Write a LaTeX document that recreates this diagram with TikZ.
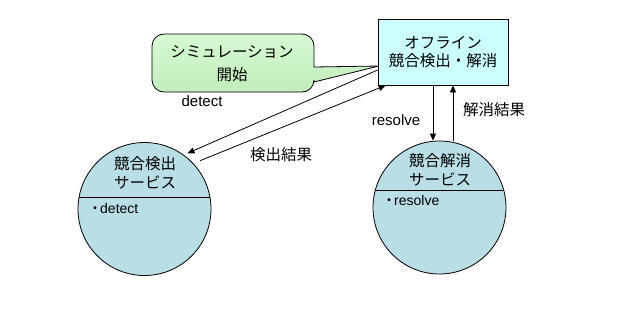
\documentclass[tikz,border=0pt]{standalone}
\usepackage{fontspec}
\setmainfont{Liberation Sans}
\newfontfamily\cjk{Noto Sans CJK JP}
\usetikzlibrary{arrows.meta,calc}
\definecolor{offcyan}{HTML}{CCFFFF}
\definecolor{svcblue}{HTML}{B9DEE5}
\definecolor{calltop}{HTML}{D6F9D2}
\definecolor{callbot}{HTML}{C2ECBC}
\begin{document}
\begin{tikzpicture}[x=1pt,y=-1pt,
  lbl/.style={font=\fontsize{15}{18}\selectfont, inner sep=0pt},
  small/.style={font=\fontsize{14}{17}\selectfont, inner sep=0pt, anchor=west},
  jp/.style={font=\cjk\fontsize{15.5}{19}\selectfont, align=center, inner sep=0pt},
  arr/.style={-{Triangle[length=7pt,width=6pt]}, line width=0.8pt},
  svc/.style={circle, draw, fill=svcblue, minimum size=133pt, inner sep=0pt, line width=0.8pt},
  offbox/.style={draw, fill=offcyan, minimum width=130pt, minimum height=66pt, inner sep=0pt, line width=0.8pt, align=center, font=\cjk\fontsize{15.5}{18}\selectfont},
  callout/.style={draw, line width=0.8pt, top color=calltop, bottom color=callbot}
]
\useasboundingbox[fill=white] (0,0) rectangle (632,308);

% callout
\path[callout] (152,60) [rounded corners=12pt] |- (314,34) [sharp corners] -- (314,67) -- (379,66) -- (314,82) [rounded corners=12pt] |- (152,92) -- cycle;
\node[jp, font=\cjk\fontsize{15.5}{23}\selectfont] (simtext) at (232,63.5) {シミュレーション\\開始};

% offline box
\node[offbox] (off) at (443,52) {オフライン\\競合検出・解消};

% services
\node[svc] (det) at (144.5,209) {};
\node[svc] (res) at (439.5,207.5) {};
\draw[line width=0.8pt] ($(det.center)+(-65.4,-12)$) -- ($(det.center)+(65.4,-12)$);
\draw[line width=0.8pt] ($(res.center)+(-64.2,-17.5)$) -- ($(res.center)+(64.2,-17.5)$);
\node[jp] (dettitle) at (145,172.5) {競合検出\\サービス};
\node[jp] (restitle) at (440,170) {競合解消\\サービス};
\node[small] (detop) at (88,208) {{\cjk ・}\kern-2pt detect};
\node[small] (resop) at (382,200) {{\cjk ・}\kern-2pt resolve};

% connectors
\draw[arr, shorten >=4pt] ([yshift=-18pt]off.west) -- (det.54);
\draw[arr, shorten <=7pt] (det.43) -- ([xshift=8pt]off.south west);
\draw[arr] ([xshift=-10pt]off.south) -- ([xshift=-10pt]off.south |- res.north);
\draw[arr] ([xshift=10pt]off.south |- res.north) -- ([xshift=10pt]off.south);

% labels
\node[lbl] (ldetect) at (202,101) {detect};
\node[jp] (ldetres) at (281,155) {検出結果};
\node[lbl] (lresolve) at (396,120) {resolve};
\node[jp] (lresres) at (494,110) {解消結果};
\end{tikzpicture}
\end{document}
